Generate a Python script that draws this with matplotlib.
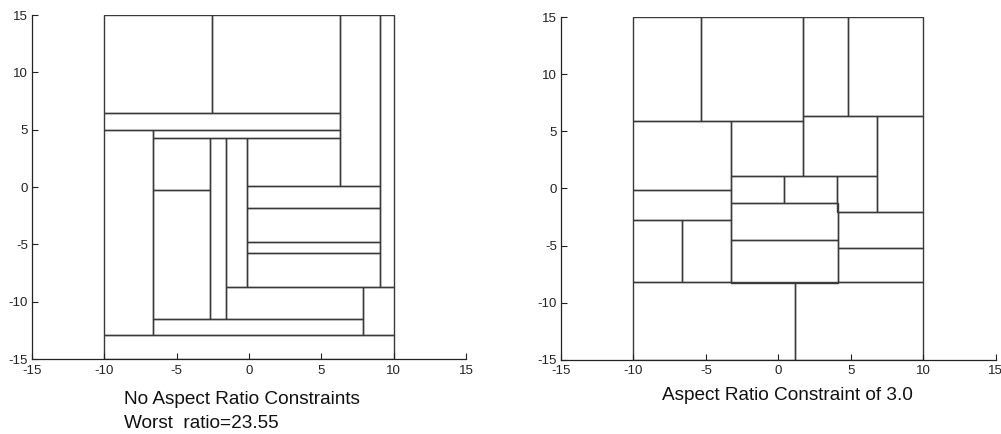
import matplotlib
matplotlib.use('Agg')
import matplotlib.pyplot as plt
from matplotlib.patches import Rectangle

plt.rcParams['font.family'] = ['Liberation Sans', 'DejaVu Sans']
plt.rcParams['axes.unicode_minus'] = False

# rectangles as (x0, y0, x1, y1)
left_rects = [
    (-10, 6.48, -2.53, 15), (-2.53, 6.48, 6.28, 15), (6.28, 0.07, 9.03, 15),
    (9.03, -8.7, 10, 15), (-10, 4.99, 6.28, 6.48), (-10, -12.87, -6.67, 4.99),
    (-6.67, 4.29, 6.28, 4.99), (-6.67, -0.27, -2.67, 4.29), (-6.67, -11.53, -2.67, -0.27),
    (-2.67, -11.53, -1.56, 4.29), (-1.56, -8.7, -0.16, 4.29), (-0.16, 0.07, 6.28, 4.29),
    (-0.16, -1.85, 9.03, 0.07), (-0.16, -4.81, 9.03, -1.85), (-0.16, -5.77, 9.03, -4.81),
    (-0.16, -8.7, 9.03, -5.77), (-1.56, -11.53, 7.86, -8.7), (7.86, -12.87, 10, -8.7),
    (-6.67, -12.87, 7.86, -11.53), (-10, -15, 10, -12.87),
]

right_rects = [
    (-10, 5.91, -5.34, 15), (-5.34, 5.91, 1.70, 15), (1.70, 6.35, 4.79, 15),
    (4.79, 6.35, 10, 15), (-10, -0.16, -3.29, 5.91), (-3.29, 1.09, 1.70, 5.91),
    (1.70, 1.09, 6.82, 6.35), (6.82, -2.09, 10, 6.35), (-3.29, -1.30, 0.36, 1.09),
    (0.36, -1.30, 4.03, 1.09), (4.03, -2.09, 6.82, 1.09), (-3.29, -4.54, 4.12, -1.30),
    (-3.29, -8.25, 4.12, -4.54), (4.12, -5.19, 10, -2.09), (4.12, -8.17, 10, -5.19),
    (-10, -2.79, -3.29, -0.16), (-10, -8.17, -6.66, -2.79), (-6.66, -8.17, -3.29, -2.79),
    (-10, -15, 1.12, -8.17), (1.12, -15, 10, -8.17),
]

ticks = [-15, -10, -5, 0, 5, 10, 15]


def draw_panel(ax, rects):
    for x0, y0, x1, y1 in rects:
        ax.add_patch(Rectangle((x0, y0), x1 - x0, y1 - y0, fill=False,
                               edgecolor='#3a3a3a', linewidth=1.0))
    ax.set_xlim(-15, 15)
    ax.set_ylim(-15, 15)
    ax.set_xticks(ticks)
    ax.set_yticks(ticks)
    ax.spines['top'].set_visible(False)
    ax.spines['right'].set_visible(False)
    for s in ('left', 'bottom'):
        ax.spines[s].set_linewidth(0.9)
        ax.spines[s].set_color('#222222')
    ax.tick_params(direction='in', length=4, width=0.8, labelsize=9.5,
                   colors='#222222')
    ax.tick_params(axis='x', pad=4)
    ax.tick_params(axis='y', pad=3)


fig = plt.figure(figsize=(10.01, 4.34), dpi=100)
ax1 = fig.add_axes([0.032, 0.1728, 0.4336, 0.7926])
ax2 = fig.add_axes([0.5604, 0.1712, 0.4343, 0.789])
draw_panel(ax1, left_rects)
draw_panel(ax2, right_rects)

fig.text(124 / 1001, 1 - 400 / 434, 'No Aspect Ratio Constraints', fontsize=13.7,
         va='center', ha='left', color='#111111')
fig.text(124 / 1001, 1 - 423 / 434, 'Worst  ratio=23.55', fontsize=13.7,
         va='center', ha='left', color='#111111')
fig.text(787 / 1001, 1 - 395 / 434, 'Aspect Ratio Constraint of 3.0', fontsize=13.7,
         va='center', ha='center', color='#111111')

fig.savefig('out.png', dpi=100)
